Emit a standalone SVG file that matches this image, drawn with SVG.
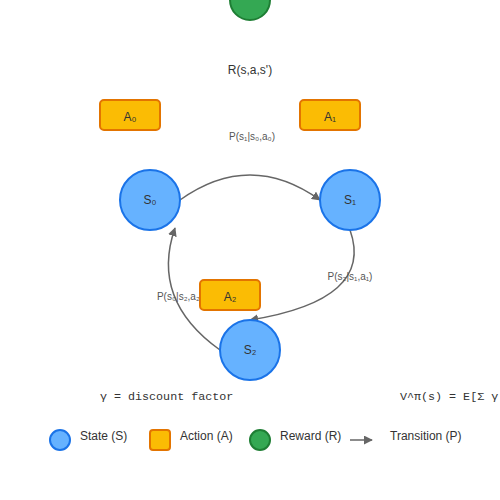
<svg xmlns="http://www.w3.org/2000/svg" width="500" height="500" viewBox="0 0 500 500">
<defs>
<marker id="arrow" viewBox="0 0 10 10" refX="9" refY="5" markerWidth="6" markerHeight="6" orient="auto">
<path d="M0,0 L10,5 L0,10 z" fill="#666"/>
</marker>
<style>
.state{fill:#66b2ff;stroke:#1a73e8;stroke-width:2}
.action{fill:#fbbc04;stroke:#e37400;stroke-width:2}
.reward{fill:#34a853;stroke:#1e7e34;stroke-width:2}
.lbl{font-family:"Liberation Sans",Arial,sans-serif;font-size:12px;fill:#333;text-anchor:middle;dominant-baseline:central}
.plbl{font-family:"Liberation Sans",Arial,sans-serif;font-size:10px;fill:#555;text-anchor:middle}
.edge{fill:none;stroke:#666;stroke-width:1.5;marker-end:url(#arrow)}
.mono{font-family:"Liberation Mono","Courier New",monospace;font-size:11.7px;fill:#333}
.leg{font-family:"Liberation Sans",Arial,sans-serif;font-size:12px;fill:#333}
</style>
</defs>
<rect width="500" height="500" fill="#fff"/>
<g id="reward">
<circle class="reward" cx="250" cy="0" r="20"/>
<text class="lbl" x="250" y="70">R(s,a,s')</text>
</g>
<g id="connectors">
<path class="edge" d="M180,200 Q250,150 320,200"/>
<path class="edge" d="M350,230 Q375,300 250,320"/>
<path class="edge" d="M220,350 Q150,300 175,228"/>
<text class="plbl" x="252" y="140">P(s₁|s₀,a₀)</text>
<text class="plbl" x="350" y="280">P(s₂|s₁,a₁)</text>
<text class="plbl" x="180" y="300">P(s₀|s₂,a₂)</text>
</g>
<g id="action0">
<rect class="action" x="100" y="100" width="60" height="30" rx="4"/>
<text class="lbl" x="130" y="117">A₀</text>
</g>
<g id="action1">
<rect class="action" x="300" y="100" width="60" height="30" rx="4"/>
<text class="lbl" x="330" y="117">A₁</text>
</g>
<g id="action2">
<rect class="action" x="200" y="280" width="60" height="30" rx="4"/>
<text class="lbl" x="230" y="297">A₂</text>
</g>
<g id="state0">
<circle class="state" cx="150" cy="200" r="30"/>
<text class="lbl" x="150" y="200">S₀</text>
</g>
<g id="state1">
<circle class="state" cx="350" cy="200" r="30"/>
<text class="lbl" x="350" y="200">S₁</text>
</g>
<g id="state2">
<circle class="state" cx="250" cy="350" r="30"/>
<text class="lbl" x="250" y="350">S₂</text>
</g>
<g id="formulas">
<text class="mono" x="100" y="400">γ = discount factor</text>
<text class="mono" x="400" y="400">V^π(s) = E[Σ γᵗ rₜ]</text>
</g>
<g id="legend">
<circle class="state" cx="60" cy="440" r="10"/>
<text class="leg" x="80" y="440">State (S)</text>
<rect class="action" x="150" y="430" width="20" height="20" rx="3"/>
<text class="leg" x="180" y="440">Action (A)</text>
<circle class="reward" cx="260" cy="440" r="10"/>
<text class="leg" x="280" y="440">Reward (R)</text>
<line class="edge" x1="350" y1="440" x2="372" y2="440"/>
<text class="leg" x="390" y="440">Transition (P)</text>
</g>
</svg>
